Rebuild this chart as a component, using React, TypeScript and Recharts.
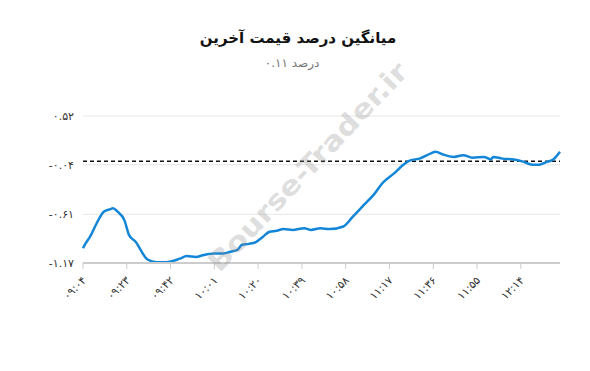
import React from "react";
import { LineChart, Line, XAxis, YAxis, CartesianGrid, ReferenceLine } from "recharts";

const minutes = [0, 1, 3, 6, 9, 12, 13, 15, 18, 20, 23, 25, 28, 32, 36, 42, 45, 49, 52, 57, 61, 64, 67, 69, 72, 75, 78, 81, 84, 87, 91, 96, 99, 103, 107, 113, 117, 122, 126, 130, 135, 139, 142, 146, 151, 153, 156, 161, 165, 169, 174, 177, 178, 182, 187, 191, 195, 198, 201, 204, 207];
const values = [-1.0, -0.95, -0.87, -0.71, -0.58, -0.55, -0.54, -0.58, -0.68, -0.85, -0.93, -1.02, -1.13, -1.16, -1.16, -1.12, -1.09, -1.1, -1.08, -1.06, -1.06, -1.04, -1.02, -0.96, -0.95, -0.93, -0.87, -0.81, -0.8, -0.78, -0.79, -0.77, -0.79, -0.77, -0.78, -0.75, -0.64, -0.5, -0.39, -0.25, -0.14, -0.04, 0.01, 0.03, 0.09, 0.11, 0.08, 0.05, 0.07, 0.04, 0.05, 0.02, 0.05, 0.03, 0.02, -0.005, -0.04, -0.04, -0.01, 0.02, 0.11];
const xTicks = [0, 19, 38, 57, 76, 95, 114, 133, 152, 171, 190];
const xTickLabels = ["09:04", "09:23", "09:42", "10:01", "10:20", "10:39", "10:58", "11:17", "11:36", "11:55", "12:14"];
const yTicks = [-1.17, -0.61, -0.04, 0.52];
const yTickLabels = ["-1.17", "-0.61", "-0.04", "0.52"];
const title = "میانگین درصد قیمت آخرین";
const subtitle = "درصد 0.11";
const watermark = "Bourse-Trader.ir";

const fa = (s: string) => s.replace(/[0-9]/g, (d) => "۰۱۲۳۴۵۶۷۸۹"[Number(d)]);

const data = minutes.map((m, i) => ({ m, v: values[i] }));

const FONT = "'DejaVu Sans', sans-serif";

const XTick = (props: any) => {
  const { x, y, payload } = props;
  const idx = xTicks.indexOf(payload.value);
  const label = idx >= 0 ? xTickLabels[idx] : "";
  return (
    <text
      x={x + 4}
      y={y + 10}
      transform={`rotate(-45 ${x + 4} ${y + 10})`}
      textAnchor="end"
      fontSize={11}
      fill="#333"
      fontFamily={FONT}
    >
      {fa(label)}
    </text>
  );
};

const YTick = (props: any) => {
  const { x, y, payload } = props;
  const idx = yTicks.indexOf(payload.value);
  const label = idx >= 0 ? yTickLabels[idx] : "";
  return (
    <text x={x} y={y + 4} textAnchor="end" fontSize={11} fill="#333" fontFamily={FONT}>
      {fa(label)}
    </text>
  );
};

export default function App() {
  return (
    <div style={{ position: "absolute", left: 0, top: 0, width: 590, height: 371, background: "#fff", overflow: "hidden" }}>
      <div
        style={{
          position: "absolute",
          top: 29,
          left: 0,
          width: 596,
          textAlign: "center",
          fontFamily: FONT,
          fontWeight: "bold",
          fontSize: 15,
          color: "#111",
          direction: "rtl",
        }}
      >
        {title}
      </div>
      <div
        style={{
          position: "absolute",
          top: 56,
          left: 0,
          width: 584,
          textAlign: "center",
          fontFamily: FONT,
          fontSize: 12,
          color: "#777",
          direction: "rtl",
        }}
      >
        {fa(subtitle)}
      </div>
      <LineChart width={590} height={371} data={data} margin={{ top: 116, right: 30, bottom: 48, left: 0 }}>
        <CartesianGrid horizontal={true} vertical={false} stroke="#e6e6e6" />
        <XAxis
          dataKey="m"
          type="number"
          domain={[0, 207]}
          ticks={xTicks}
          tick={<XTick />}
          interval={0}
          stroke="#cccccc"
          strokeWidth={2}
          tickLine={{ stroke: "#cccccc", strokeWidth: 1 }}
          tickSize={6}
          height={60}
        />
        <YAxis
          type="number"
          domain={[-1.17, 0.52]}
          ticks={yTicks}
          tick={<YTick />}
          axisLine={false}
          tickLine={false}
          width={83}
          tickMargin={3}
          allowDataOverflow
        />
        <ReferenceLine y={0} stroke="#111" strokeDasharray="4 3" strokeWidth={1.5} />
        <Line
          type="monotone"
          dataKey="v"
          stroke="#1386d8"
          strokeWidth={2.5}
          dot={false}
          isAnimationActive={false}
        />
      </LineChart>
      <svg width={590} height={371} style={{ position: "absolute", left: 0, top: 0, pointerEvents: "none" }}>
        <text
          x={308}
          y={176}
          transform="rotate(-46.5 308 167)"
          textAnchor="middle"
          fontFamily={FONT}
          fontWeight="bold"
          fontSize={27}
          fill="rgba(140,140,140,0.3)"
          textLength={276}
          lengthAdjust="spacingAndGlyphs"
        >
          {watermark}
        </text>
      </svg>
    </div>
  );
}
